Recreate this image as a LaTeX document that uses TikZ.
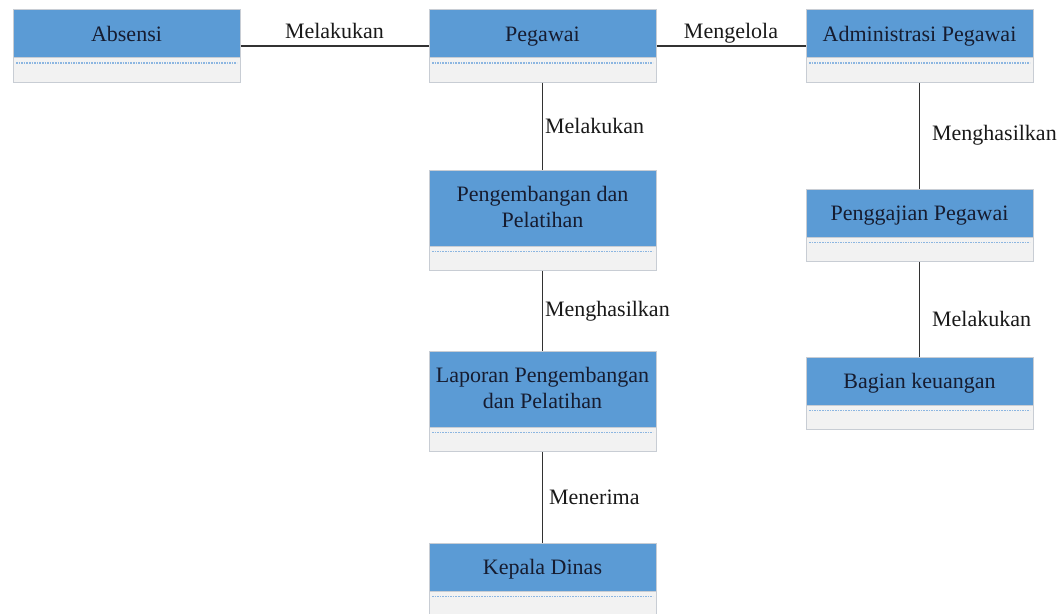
\documentclass[tikz,border=0pt]{standalone}
\usepackage{fontspec}
\setmainfont{Liberation Serif}
\usepackage{xcolor}
\usepackage{tikz}
\usetikzlibrary{positioning,shapes.multipart}
\definecolor{erdBlue}{RGB}{91,155,213}
\definecolor{erdGray}{RGB}{242,242,242}
\definecolor{erdEdge}{RGB}{200,205,212}
\definecolor{erdDot}{RGB}{140,182,225}
\definecolor{erdText}{RGB}{22,28,48}
\definecolor{erdLine}{RGB}{50,50,50}

\begin{document}
\begin{tikzpicture}[
    entity/.style={rectangle split, rectangle split parts=2, rectangle split part fill={erdBlue,erdGray}, rectangle split empty part height=0pt, rectangle split empty part depth=0pt, draw=erdEdge, line width=0.5pt, minimum width=113.5pt, inner xsep=2pt, inner ysep=3.5pt, text height=11.9pt, text depth=4.6pt, align=center, text=erdText, font=\fontsize{11}{13}\selectfont, path picture={\draw[erdDot, dash pattern=on 0.8pt off 0.5pt, line width=0.6pt] ([xshift=1.5pt, yshift=9.5pt]path picture bounding box.south west) -- ([xshift=-1.5pt, yshift=9.5pt]path picture bounding box.south east);}},
    twoline/.style={text height=25pt, text depth=5.5pt},
    link/.style={draw=erdLine, line width=0.6pt},
    lbl/.style={font=\fontsize{11}{13}\selectfont, text=black!90, inner sep=1pt}
]
\useasboundingbox (0,0) rectangle (530.5pt,-307pt);
\node[entity] (absensi) at (63.25pt,-23pt) {Absensi};
\node[entity, right=94pt of absensi] (pegawai) {Pegawai};
\node[entity, right=74.5pt of pegawai] (admin) {Administrasi Pegawai};
\node[entity, twoline, below=43.5pt of pegawai] (latih) {Pengembangan dan\\Pelatihan};
\node[entity, twoline, below=40pt of latih] (laporan) {Laporan Pengembangan\\dan Pelatihan};
\node[entity, below=45.5pt of laporan] (kadis) {Kepala Dinas};
\node[entity, below=53pt of admin] (gaji) {Penggajian Pegawai};
\node[entity, below=47.5pt of gaji] (keuangan) {Bagian keuangan};
% relasi
\draw[link] (absensi) -- node[lbl, anchor=base, yshift=3.5pt] (relAbsen) {Melakukan} (pegawai);
\draw[link] (pegawai) -- node[lbl, anchor=base, yshift=3.5pt] (relKelola) {Mengelola} (admin);
\draw[link] (pegawai) -- node[lbl, right] (relLatih) {Melakukan} (latih);
\draw[link] (latih) -- node[lbl, right] (relLapor) {Menghasilkan} (laporan);
\draw[link] (laporan) -- node[lbl, right=2pt] (relTerima) {Menerima} (kadis);
\draw[link] (admin) -- node[lbl, right=5pt] (relGaji) {Menghasilkan} (gaji);
\draw[link] (gaji) -- node[lbl, right=5pt, pos=0.6] (relUang) {Melakukan} (keuangan);
\end{tikzpicture}
\end{document}
